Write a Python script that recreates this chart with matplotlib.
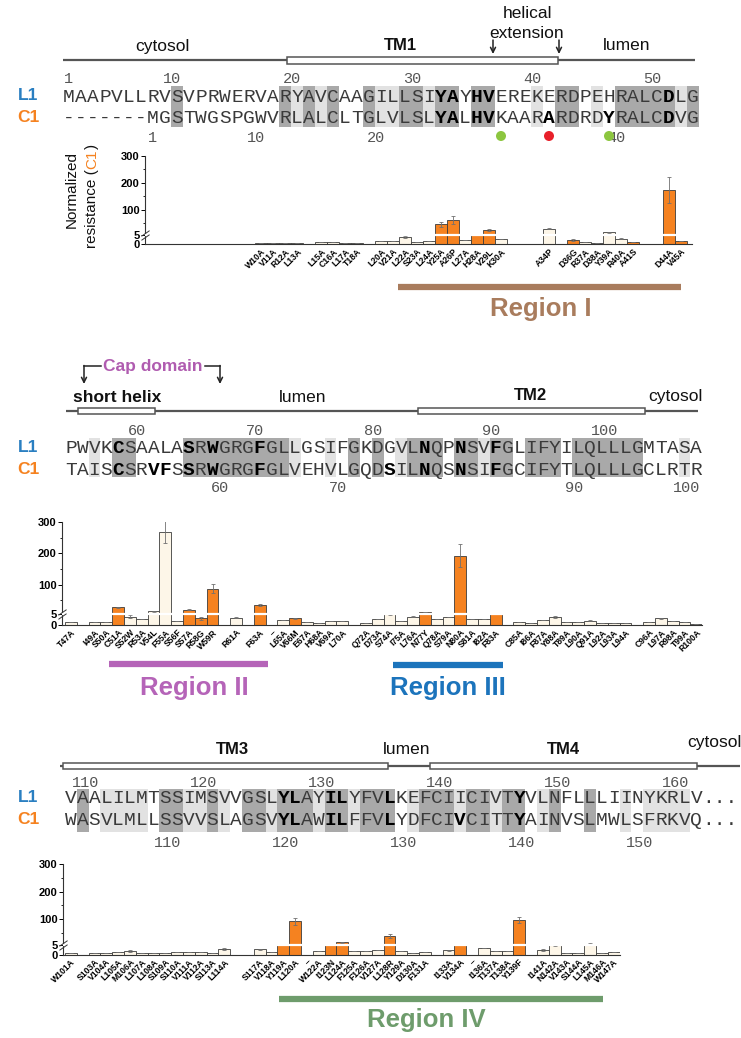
import numpy as np
import matplotlib.pyplot as plt
from matplotlib.patches import Rectangle, Circle
from matplotlib.path import Path

plt.rcParams['font.family'] = ['Liberation Sans', 'DejaVu Sans']

## ---------------- data ----------------
## alignments (one string per row, '-' = gap)
p1_l1 = "MAAPVLLRVSVPRWERVARYAVCAAGILLSIYAYHVEREKERDPEHRALCDLG"
p1_c1 = "-------MGSTWGSPGWVRLALCLTGLVLSLYALHVKAARARDRDYRALCDVG"
p2_l1 = "PWVKCSAALASRWGRGFGLLGSIFGKDGVLNQPNSVFGLIFYILQLLLGMTASA"
p2_c1 = "TAISCSRVFSSRWGRGFGLVEHVLGQDSILNQSNSIFGCIFYTLQLLLGCLRTR"
p3_l1 = "VAALILMTSSIMSVVGSLYLAYILYFVLKEFCIICIVTYVLNFLLLIINYKRLV"
p3_c1 = "WASVLMLLSSVVSLAGSVYLAWILFFVLYDFCIVCITTYAINVSLMWLSFRKVQ"

## bold columns (1-based)
p1_l1_bold = [32, 33, 35, 36, 51]
p1_c1_bold = [32, 33, 35, 36, 41, 46, 51]
p2_l1_bold = [5, 11, 13, 17, 31, 34, 37]
p2_c1_bold = [5, 8, 9, 11, 13, 17, 28, 31, 34, 37]
p3_l1_bold = [19, 20, 23, 24, 28, 39]
p3_c1_bold = [19, 20, 23, 24, 28, 34, 39]

## similar (light grey) columns; identical columns are dark grey
p1_light = [20, 22, 27, 28, 31, 40, 45, 52]
p2_light = [3, 20, 23, 29, 36, 53]
p3_light = [4, 5, 6, 7, 11, 12, 14, 18, 22, 25, 30, 34, 37, 41, 48, 50, 51, 52, 53]

## residue numbering shown above (L1) and below (C1): (number, column)
p1_l1_num = [(1, 1), (10, 10), (20, 20), (30, 30), (40, 40), (50, 50)]
p1_c1_num = [(1, 8), (10, 17), (20, 27), (40, 47)]
p2_l1_num = [(60, 7), (70, 17), (80, 27), (90, 37), (100, 47)]
p2_c1_num = [(60, 14), (70, 24), (90, 44), (100, 54)]
p3_l1_num = [(110, 3), (120, 13), (130, 23), (140, 33), (150, 43), (160, 53)]
p3_c1_num = [(110, 10), (120, 20), (130, 30), (140, 40), (150, 50)]

## marked residues under TM1 (column, colour)
p1_dots = [(37, '#8cc63f'), (41, '#e8202a'), (46, '#8cc63f')]

## normalized resistance of C1 mutants
p1_labels = ["W10A", "V11A", "R12A", "L13A", "L15A", "C16A", "L17A", "T18A", "L20A", "V21A",
             "L22A", "S23A", "L24A", "Y25A", "A26P", "L27A", "H28A", "V29L", "K30A", "A34P",
             "D36G", "R37A", "D38A", "Y39A", "R40A", "A41S", "D44A", "V45A"]
p1_vals = [0.5, 0.5, 0.7, 0.9, 1.1, 1.3, 0.7, 0.7, 1.6, 1.9,
           3.9, 1.2, 1.5, 45, 61, 2.3, 7, 23, 3.0, 29,
           2.3, 1.0, 0.5, 15, 3.0, 1.2, 174, 1.9]
p1_errs = [0, 0, 0, 0, 0, 0, 0, 0, 0, 0,
           0.3, 0, 0, 10, 14, 0, 1, 3, 0, 2,
           0.3, 0, 0, 2, 0.3, 0, 48, 0]
p1_hits = ["Y25A", "A26P", "H28A", "V29L", "D36G", "A41S", "D44A", "V45A"]
p1_blank = []

p2_labels = ["T47A", "I49A", "S50A", "C51A", "S52W", "R53A", "V54L", "F55A", "S56F", "S57A",
             "R58G", "W59R", "R61A", "F63A", "L65A", "V66M", "E67A", "H68A", "V69A", "L70A",
             "Q72A", "D73A", "S74A", "I75A", "L76A", "N77Y", "Q78A", "S79A", "N80A", "S81A",
             "I82A", "F83A", "C85A", "I86A", "F87A", "Y88A", "T89A", "L90A", "Q91A", "L92A",
             "L93A", "L94A", "C96A", "L97A", "R98A", "T99A", "R100A"]
p2_vals = [1.25, 1.6, 1.6, 26.5, 3.9, 2.8, 13.6, 270, 1.9, 19,
           3.1, 87, 3.3, 33, 2.5, 3.0, 1.6, 1.1, 2.0, 1.7,
           1.1, 2.7, 5.5, 2.0, 3.8, 11.5, 2.8, 3.7, 193, 2.9,
           2.9, 8, 1.6, 1.1, 2.2, 3.8, 1.4, 1.4, 2.0, 0.9,
           1.1, 1.1, 1.6, 3.0, 1.9, 1.2, 0.6]
p2_errs = [0, 0, 0, 2, 0.5, 0, 1, 35, 0, 2,
           0.6, 15, 0.3, 3, 0, 0.3, 0, 0, 0, 0,
           0, 0, 1, 0, 0.3, 1, 0, 0, 36, 0,
           0, 1, 0, 0, 0, 0.5, 0, 0, 0.3, 0,
           0, 0, 0, 0.3, 0, 0, 0]
p2_hits = ["C51A", "S57A", "R58G", "W59R", "F63A", "V66M", "N77Y", "N80A", "F83A"]
p2_blank = [64]

p3_labels = ["W101A", "S103A", "V104A", "L105A", "M106A", "L107A", "L108A", "S109A", "S110A", "V111A",
             "V112A", "S113A", "L114A", "S117A", "V118A", "Y119A", "L120A", "W122A", "I123N", "L124A",
             "F125A", "F126A", "V127A", "L128R", "Y129A", "D130A", "F131A", "I133A", "V134A", "I136A",
             "T137A", "T138A", "Y139F", "I141A", "N142A", "V143A", "S144A", "L145A", "M146A", "W147A"]
p3_vals = [1.0, 0.8, 1.0, 1.3, 1.9, 1.0, 1.1, 1.1, 1.5, 1.5,
           1.5, 1.0, 3.2, 2.9, 1.6, 5.5, 92, 1.8, 9, 15,
           2.1, 2.1, 2.4, 39, 2.1, 1.1, 1.5, 2.4, 6, 3.7,
           1.8, 2.1, 96, 2.6, 5.5, 1.0, 1.0, 9, 1.0, 1.3]
p3_errs = [0, 0, 0, 0, 0.4, 0, 0, 0, 0, 0,
           0, 0, 0.5, 0.3, 0, 0, 12, 0, 1, 1,
           0, 0, 0, 7, 0, 0, 0, 0.3, 1, 0,
           0, 0, 11, 0.5, 1, 0, 0, 2, 0, 0]
p3_hits = ["Y119A", "L120A", "I123N", "L124A", "L128R", "V134A", "Y139F"]
p3_blank = [121, 135]

## ---------------- styling ----------------
W, H = 741, 1038
ORANGE = '#f58220'
CREAM = '#fdf6e8'
DARK = '#a9a9a9'
LIGHT = '#e2e2e2'
BLUE_L1 = '#2a7fc1'
MONO = 'Liberation Mono'
SEQ_COL = '#3a3a3a'


def fwd(y):
    y = np.asarray(y, dtype=float)
    return np.where(y <= 5, y * 7.0, 35.0 + (y - 5.0))


def inv(v):
    v = np.asarray(v, dtype=float)
    return np.where(v <= 35, v / 7.0, v - 30.0)


fig = plt.figure(figsize=(W / 100, H / 100), dpi=100)
ov = fig.add_axes([0, 0, 1, 1])
ov.set_xlim(0, W)
ov.set_ylim(H, 0)
ov.axis('off')


def draw_alignment(l1, c1, l1_bold, c1_bold, light, l1_num, c1_num, x0, cw,
                   shade_top, shade_bot, y_l1, y_c1, y_ntop, y_nbot, dots=None, dots_after=False):
    cx = lambda c: x0 + (c - 0.5) * cw
    for c in range(1, len(l1) + 1):
        a, b = l1[c - 1], c1[c - 1]
        col = None
        if a == b:
            col = DARK
        elif c in light:
            col = LIGHT
        if col:
            ov.add_patch(Rectangle((x0 + (c - 1) * cw, shade_top), cw, shade_bot - shade_top,
                                   fc=col, ec='none', zorder=1))
    for seq, bold, y in ((l1, l1_bold, y_l1), (c1, c1_bold, y_c1)):
        for c, ch in enumerate(seq, start=1):
            b = c in bold
            ov.text(cx(c), y, ch, family=MONO, fontsize=14, ha='center', va='baseline',
                    fontweight='bold' if b else 'normal', color='black' if b else SEQ_COL, zorder=3)
    for nums, y in ((l1_num, y_ntop), (c1_num, y_nbot)):
        for n, c in nums:
            ov.text(cx(c) + 4.5, y, str(n), family=MONO, fontsize=11, ha='right', va='baseline',
                    color='#555555', zorder=3)
    ov.text(28, y_l1 - 6, 'L1', fontsize=12.5, fontweight='bold', color=BLUE_L1, ha='center', va='center')
    ov.text(28, y_c1 - 6, 'C1', fontsize=12.5, fontweight='bold', color=ORANGE, ha='center', va='center')
    if dots:
        for c, colr in dots:
            ov.add_patch(Circle((cx(c), 136), 5, fc=colr, ec='none', zorder=3))
    if dots_after:
        n = len(l1)
        ov.text(cx(n) + 6, y_l1, '...', family=MONO, fontsize=14, ha='left', va='baseline', color=SEQ_COL)
        ov.text(cx(n) + 6, y_c1, '...', family=MONO, fontsize=14, ha='left', va='baseline', color=SEQ_COL)


def topo_line(x1, x2, y, boxes, h=7):
    ov.plot([x1, x2], [y, y], color='#555555', lw=1.6, zorder=2, solid_capstyle='butt')
    for bx1, bx2 in boxes:
        ov.add_patch(Rectangle((bx1, y - h / 2), bx2 - bx1, h, fc='white', ec='#555555', lw=1.1, zorder=3))


def down_arrow(x, y1, y2):
    ov.annotate('', xy=(x, y2), xytext=(x, y1),
                arrowprops=dict(arrowstyle='->', color='#222222', lw=1.1, shrinkA=0, shrinkB=0,
                                mutation_scale=9))


def bar_panel(left, right, y0, y300, x0, cw, shift, labels, vals, errs, hits, blanks):
    ax = fig.add_axes([left / W, 1 - y0 / H, (right - left) / W, (y0 - y300) / H])
    ax.set_facecolor('none')
    ax.set_yscale('function', functions=(fwd, inv))
    res = [int(s[1:-1]) for s in labels]
    cols = np.array(res) + shift
    colors = [ORANGE if s in hits else CREAM for s in labels]
    ax.bar(cols, vals, width=1.0, color=colors, edgecolor='#3c3c3c', lw=0.6, zorder=2)
    ax.errorbar(cols, vals, yerr=errs, fmt='none', ecolor='#707070', elinewidth=0.6,
                capsize=1.5, capthick=0.6, zorder=3)
    ax.axhline(5, color='white', lw=1.6, zorder=4)
    ax.set_xlim((left - x0) / cw + 0.5, (right - x0) / cw + 0.5)
    ax.set_ylim(0, 300)
    ax.set_yticks([0, 5, 100, 200, 300])
    ax.set_yticklabels(['0', '5', '100', '200', '300'], fontsize=8, fontweight='bold')
    ax.set_yticks([50, 150, 250], minor=True)
    ticks = list(cols) + [b + shift for b in blanks]
    tlabels = list(labels) + ['\u2013'] * len(blanks)
    ax.set_xticks(ticks)
    ax.set_xticklabels(tlabels, rotation=45, ha='right', rotation_mode='anchor',
                       fontsize=6.2, fontweight='bold')
    ax.tick_params(axis='x', length=0, pad=2)
    ax.tick_params(axis='y', which='major', length=3, width=0.7, pad=1)
    ax.tick_params(axis='y', which='minor', length=1.5, width=0.6)
    for s in ('top', 'right'):
        ax.spines[s].set_visible(False)
    for s in ('left', 'bottom'):
        ax.spines[s].set_linewidth(0.8)
        ax.spines[s].set_color('#333333')
    brk = Path([(-1, -1.2), (1, 0.2), (-1, -0.2), (1, 1.2)],
               [Path.MOVETO, Path.LINETO, Path.MOVETO, Path.LINETO])
    ax.plot([0], [5], marker=brk, ms=7, mew=0.7, mec='#333333', mfc='none',
            transform=ax.get_yaxis_transform(), clip_on=False, zorder=5)
    return ax


## ---------------- panel 1 ----------------
topo_line(63, 695, 60, [(287, 558)])
ov.text(162, 47, 'cytosol', fontsize=12.5, ha='center', va='center', color='#111111')
ov.text(400, 45, 'TM1', fontsize=12, fontweight='bold', ha='center', va='center', color='#111111')
ov.text(627, 45, 'lumen', fontsize=12.5, ha='center', va='center', color='#111111')
ov.text(527, 13, 'helical', fontsize=12.5, ha='center', va='center', color='#111111')
ov.text(527, 33, 'extension', fontsize=12.5, ha='center', va='center', color='#111111')
down_arrow(493, 40, 54)
down_arrow(559, 40, 54)
draw_alignment(p1_l1, p1_c1, p1_l1_bold, p1_c1_bold, p1_light, p1_l1_num, p1_c1_num,
               63, 12.0, 86, 127, 102, 123, 83, 142, dots=p1_dots)
bar_panel(145, 692, 244.3, 156, 63, 12.0, 7, p1_labels, p1_vals, p1_errs, p1_hits, p1_blank)

## two-colour y label
ov.text(72, 190, 'Normalized', fontsize=11, rotation=90, ha='center', va='center', color='#111111')
rend = fig.canvas.get_renderer()
pieces = [('resistance (', '#111111'), ('C1', ORANGE), (')', '#111111')]
tmp = ov.text(92, 0, 'resistance (C1)', fontsize=11, rotation=90)
tot = tmp.get_window_extent(rend).height
tmp.remove()
ybot = 196 + tot / 2
for txt, colr in pieces:
    t = ov.text(92, ybot, txt, fontsize=11, rotation=90, ha='center', va='bottom', color=colr)
    ybot -= t.get_window_extent(rend).height

ov.plot([398, 681], [287, 287], color='#a97c5d', lw=4.5, solid_capstyle='butt')
ov.text(541, 309, 'Region I', fontsize=18.5, fontweight='bold', color='#a97c5d', ha='center', va='center')

## ---------------- panel 2 ----------------
topo_line(66, 698, 411, [(78, 155), (418, 645)], h=6)
ov.text(117, 397, 'short helix', fontsize=12.5, fontweight='bold', ha='center', va='center', color='#111111')
ov.text(303, 397, 'lumen', fontsize=12.5, ha='center', va='center', color='#111111')
ov.text(530, 396, 'TM2', fontsize=12, fontweight='bold', ha='center', va='center', color='#111111')
ov.text(675, 397, 'cytosol', fontsize=12.5, ha='center', va='center', color='#111111')
ov.text(153, 366, 'Cap domain', fontsize=12.5, fontweight='bold', ha='center', va='center', color='#b05cb0')
ov.plot([101, 84], [366, 366], color='#222222', lw=1.1)
ov.plot([205, 220], [366, 366], color='#222222', lw=1.1)
down_arrow(84, 365.5, 384)
down_arrow(220, 365.5, 384)
draw_alignment(p2_l1, p2_c1, p2_l1_bold, p2_c1_bold, p2_light, p2_l1_num, p2_c1_num,
               65, 11.8, 438, 477, 453, 475, 435, 492)
bar_panel(62, 702, 625, 522.3, 65, 11.8, -46, p2_labels, p2_vals, p2_errs, p2_hits, p2_blank)
ov.plot([109, 268], [664, 664], color='#b564b8', lw=4.5, solid_capstyle='butt')
ov.text(194, 688, 'Region II', fontsize=18.5, fontweight='bold', color='#b564b8', ha='center', va='center')
ov.plot([393, 503], [665, 665], color='#1c74bc', lw=4.5, solid_capstyle='butt')
ov.text(448, 688, 'Region III', fontsize=18.5, fontweight='bold', color='#1c74bc', ha='center', va='center')

## ---------------- panel 3 ----------------
topo_line(60, 740, 766, [(63, 388), (430, 697)], h=6)
ov.text(232, 750, 'TM3', fontsize=12, fontweight='bold', ha='center', va='center', color='#111111')
ov.text(407, 750, 'lumen', fontsize=12.5, ha='center', va='center', color='#111111')
ov.text(563, 750, 'TM4', fontsize=12, fontweight='bold', ha='center', va='center', color='#111111')
ov.text(714, 743, 'cytosol', fontsize=12.5, ha='center', va='center', color='#111111')
draw_alignment(p3_l1, p3_c1, p3_l1_bold, p3_c1_bold, p3_light, p3_l1_num, p3_c1_num,
               65, 11.8, 789, 832, 803, 825, 787, 847, dots_after=True)
bar_panel(63, 619.6, 954.7, 864.3, 65, 11.8, -100, p3_labels, p3_vals, p3_errs, p3_hits, p3_blank)
ov.plot([279, 603], [999, 999], color='#6e9c6c', lw=4.5, solid_capstyle='butt')
ov.text(426, 1020, 'Region IV', fontsize=18.5, fontweight='bold', color='#6e9c6c', ha='center', va='center')

fig.savefig('out.png', dpi=100)
